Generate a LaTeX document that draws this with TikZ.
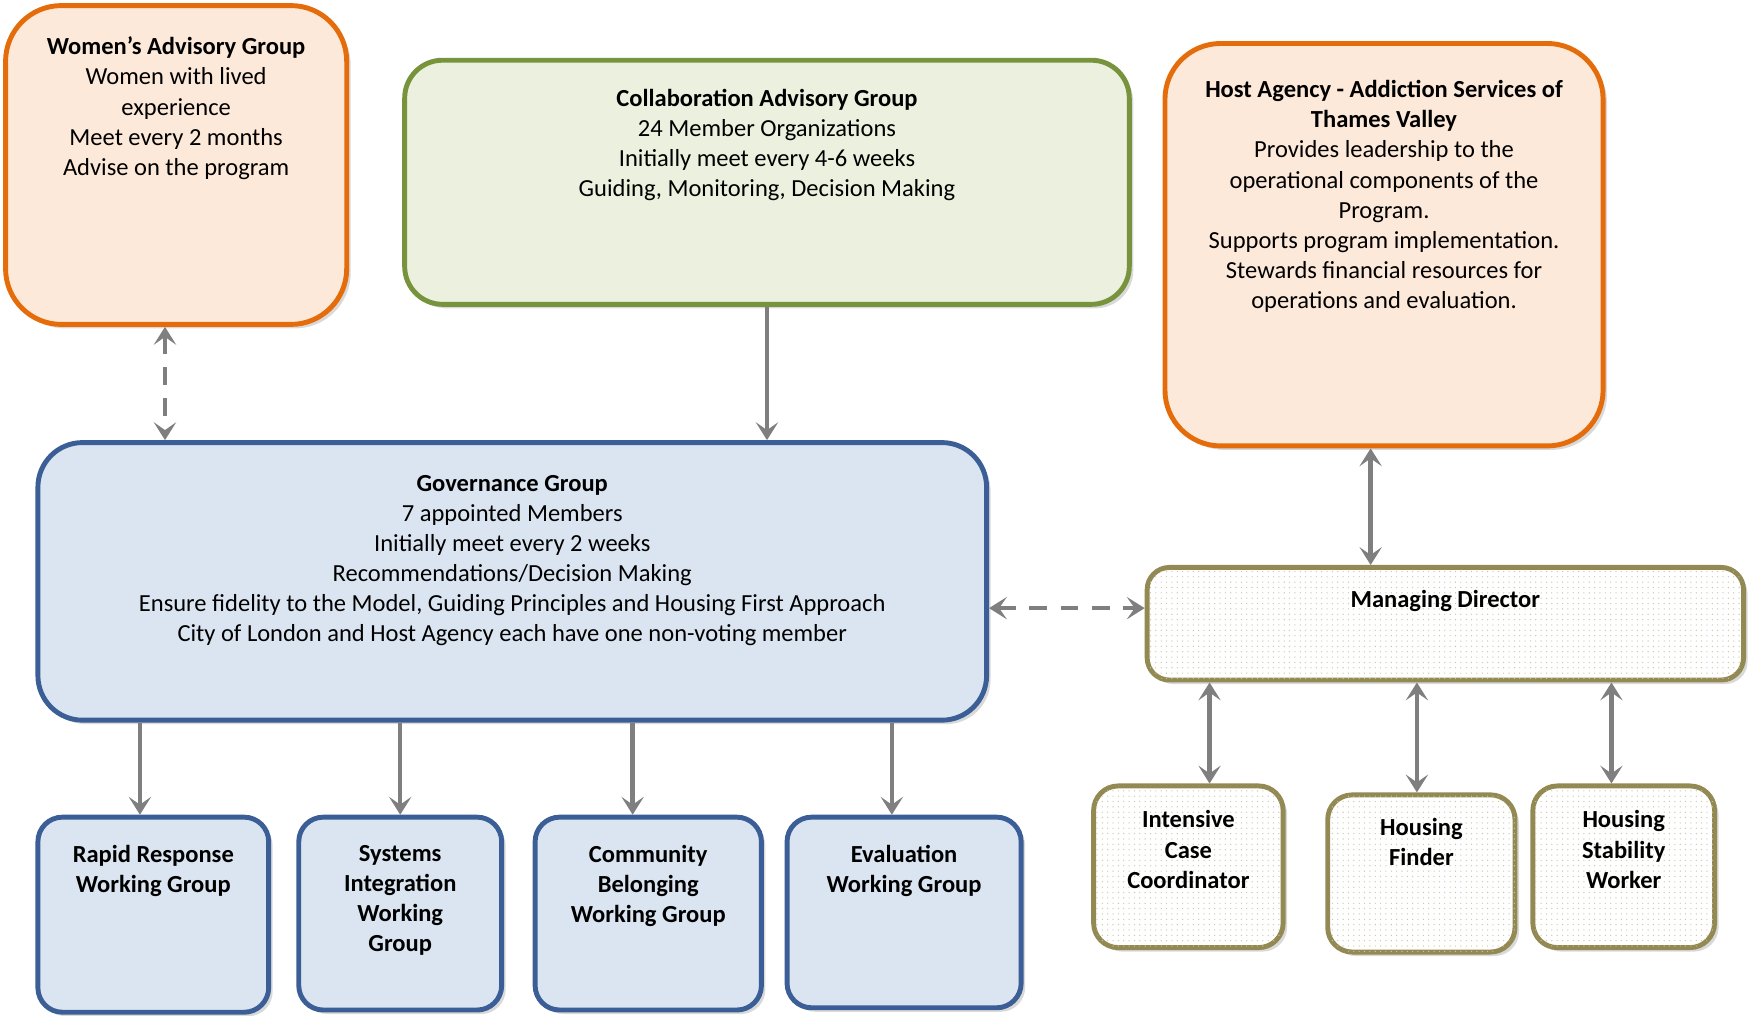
\documentclass[tikz,border=0pt]{standalone}
\usepackage{fontspec}
\setmainfont{Carlito}
\usetikzlibrary{positioning,arrows.meta,shadows,patterns.meta}
\definecolor{peachfill}{HTML}{FDE9D9}
\definecolor{orangeline}{HTML}{E46C0A}
\definecolor{greenfill}{HTML}{EBF1DE}
\definecolor{greenline}{HTML}{77933C}
\definecolor{bluefill}{HTML}{DBE5F1}
\definecolor{blueline}{HTML}{3A5E95}
\definecolor{oliveline}{HTML}{938953}
\definecolor{dotcolor}{HTML}{CCC5A3}
\definecolor{arrowgray}{HTML}{7F7F7F}
\tikzset{
  grp/.style={line width=2.2pt, rounded corners=#1,
    drop shadow={opacity=0.3, shadow xshift=1.8pt, shadow yshift=-1.8pt}},
  advisory/.style={grp=25pt, draw=orangeline, fill=peachfill},
  collab/.style={grp=17pt, draw=greenline, fill=greenfill},
  govbox/.style={grp=#1, draw=blueline, fill=bluefill},
  staff/.style={grp=#1, draw=oliveline, fill=white,
    postaction={pattern={Dots[radius=0.3pt,distance=2.4pt]}, pattern color=dotcolor}},
  txt/.style={align=center, inner sep=0pt, font=\fontsize{11}{13.5}\selectfont},
  arr/.style={-{Stealth[length=8pt,width=10pt,inset=3.5pt]}, line width=2pt, draw=arrowgray},
  biarr/.style={{Stealth[length=8pt,width=10pt,inset=3.5pt]}-{Stealth[length=8pt,width=10pt,inset=3.5pt]}, line width=2pt, draw=arrowgray},
  dasharr/.style={biarr, dash pattern=on 8pt off 6pt}
}
\begin{document}
\begin{tikzpicture}[x=0.5pt,y=-0.5pt]
\useasboundingbox (0,0) rectangle (1568,911);

\node[advisory, minimum width=153pt, minimum height=143pt] (wag) at (158,148) {};
\node[txt, below=15pt of wag.north] (wagtxt) {\textbf{Women’s Advisory Group}\\Women with lived\\experience\\Meet every 2 months\\Advise on the program};

\node[collab, minimum width=325pt, minimum height=109.5pt] (cag) at (688,163.5) {};
\node[txt, below=14pt of cag.north] (cagtxt) {\textbf{Collaboration Advisory Group}\\24 Member Organizations\\Initially meet every 4-6 weeks\\Guiding, Monitoring, Decision Making};

\node[advisory, minimum width=196.5pt, minimum height=180.5pt] (host) at (1241.5,219.5) {};
\node[txt, below=17.5pt of host.north] (hosttxt) {\textbf{Host Agency - Addiction Services of}\\\textbf{Thames Valley}\\Provides leadership to the\\operational components of the\\Program.\\Supports program implementation.\\Stewards financial resources for\\operations and evaluation.};

\node[govbox=20pt, minimum width=425.5pt, minimum height=124.5pt] (gov) at (459.5,521.5) {};
\node[txt, below=15.5pt of gov.north] (govtxt) {\textbf{Governance Group}\\7 appointed Members\\Initially meet every 2 weeks\\Recommendations/Decision Making\\Ensure fidelity to the Model, Guiding Principles and Housing First Approach\\City of London and Host Agency each have one non-voting member};

\node[staff=10pt, minimum width=267.5pt, minimum height=50.5pt] (mgr) at (1296.5,559.5) {};
\node[txt, below=11pt of mgr.north] (mgrtxt) {\textbf{Managing Director}};

\node[govbox=11pt, minimum width=103.5pt, minimum height=87.5pt] (rrwg) at (137.5,820.5) {};
\node[txt, below=13.5pt of rrwg.north] (rrwgtxt) {\textbf{Rapid Response}\\\textbf{Working Group}};

\node[govbox=11pt, minimum width=91pt, minimum height=86.5pt] (siwg) at (359,819.5) {};
\node[txt, below=13.5pt of siwg.north] (siwgtxt) {\textbf{Systems}\\\textbf{Integration}\\\textbf{Working}\\\textbf{Group}};

\node[govbox=11pt, minimum width=101.5pt, minimum height=86.5pt] (cbwg) at (581.5,819.5) {};
\node[txt, below=13.5pt of cbwg.north] (cbwgtxt) {\textbf{Community}\\\textbf{Belonging}\\\textbf{Working Group}};

\node[govbox=11pt, minimum width=105pt, minimum height=85.5pt] (ewg) at (811,818.5) {};
\node[txt, below=13.5pt of ewg.north] (ewgtxt) {\textbf{Evaluation}\\\textbf{Working Group}};

\node[staff=11pt, minimum width=85pt, minimum height=72.5pt] (icc) at (1066,777.5) {};
\node[txt, below=12pt of icc.north] (icctxt) {\textbf{Intensive}\\\textbf{Case}\\\textbf{Coordinator}};

\node[staff=11pt, minimum width=84pt, minimum height=70.5pt] (hf) at (1275,783.5) {};
\node[txt, below=11.5pt of hf.north] (hftxt) {\textbf{Housing}\\\textbf{Finder}};

\node[staff=11pt, minimum width=81.5pt, minimum height=72.5pt] (hsw) at (1456.5,777.5) {};
\node[txt, below=12pt of hsw.north] (hswtxt) {\textbf{Housing}\\\textbf{Stability}\\\textbf{Worker}};

\draw[dasharr] ([xshift=-5pt]wag.south) to ([xshift=-5pt]wag.south |- gov.north);
\draw[arr] (cag.south) to (cag.south |- gov.north);
\draw[biarr] ([xshift=-6pt]host.south) to ([xshift=-6pt]host.south |- mgr.north);
\draw[dasharr] ([yshift=7pt]mgr.west -| gov.east) to ([yshift=7pt]mgr.west);

\draw[arr] ([xshift=-6pt]rrwg.north |- gov.south) to ([xshift=-6pt]rrwg.north);
\draw[arr] (siwg.north |- gov.south) to (siwg.north);
\draw[arr] ([xshift=-7pt]cbwg.north |- gov.south) to ([xshift=-7pt]cbwg.north);
\draw[arr] ([xshift=-5.5pt]ewg.north |- gov.south) to ([xshift=-5.5pt]ewg.north);

\draw[biarr] ([xshift=9.5pt]icc.north |- mgr.south) to ([xshift=9.5pt]icc.north);
\draw[biarr] ([xshift=-2pt]hf.north |- mgr.south) to ([xshift=-2pt]hf.north);
\draw[biarr] ([xshift=-5.5pt]hsw.north |- mgr.south) to ([xshift=-5.5pt]hsw.north);
\end{tikzpicture}
\end{document}
